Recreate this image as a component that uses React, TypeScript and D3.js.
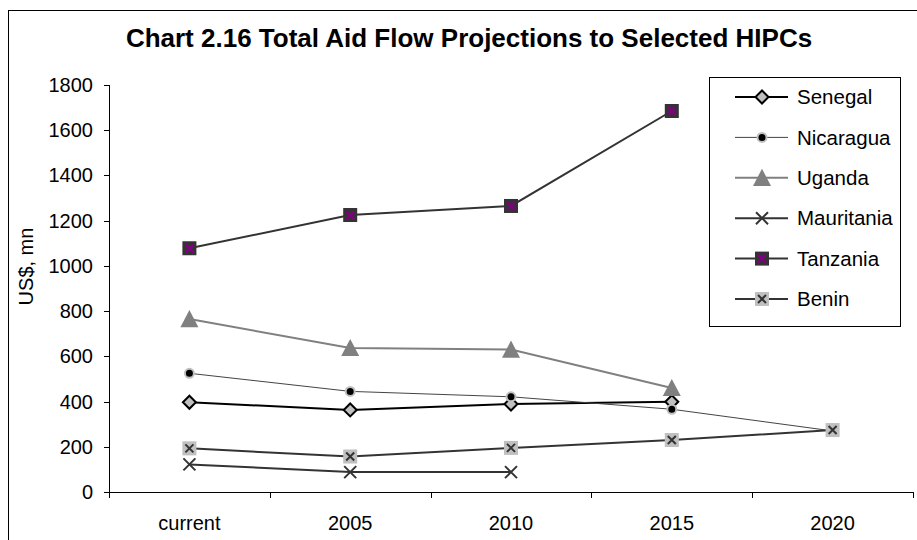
import React from 'react';
import * as d3 from 'd3';

const categories = ['current', '2005', '2010', '2015', '2020'];
const yTicks = [0, 200, 400, 600, 800, 1000, 1200, 1400, 1600, 1800];

// values, null = no point
const senegal = [397, 363, 389, 399, null];
const nicaragua = [525, 445, 421, 366, 270];
const uganda = [765, 637, 630, 460, null];
const mauritania = [122, 88, 88, null, null];
const tanzania = [1078, 1225, 1265, 1685, null];
const benin = [193, 157, 195, 230, 274];

const seriesNames = ['Senegal', 'Nicaragua', 'Uganda', 'Mauritania', 'Tanzania', 'Benin'];
const seriesValues = [senegal, nicaragua, uganda, mauritania, tanzania, benin];

const W = 917;
const H = 540;
const plot = { left: 109, right: 913, top: 85, bottom: 492 };
const font = 'Liberation Sans, Arial, sans-serif';

type Style = { stroke: string; width: number };
const lineStyles: Record<string, Style> = {
    Senegal: { stroke: '#000', width: 2 },
    Nicaragua: { stroke: '#444', width: 1 },
    Uganda: { stroke: '#808080', width: 2 },
    Mauritania: { stroke: '#333', width: 2 },
    Tanzania: { stroke: '#333', width: 2 },
    Benin: { stroke: '#333', width: 2 },
};

const Marker: React.FC<{ name: string; x: number; y: number }> = ({ name, x, y }) => {
    if (name === 'Senegal') {
        const s = 6.5;
        return <path d={`M${x},${y - s}L${x + s},${y}L${x},${y + s}L${x - s},${y}Z`} fill="#c0c0c0" stroke="#000" strokeWidth={2} />;
    }
    if (name === 'Nicaragua') {
        return <circle cx={x} cy={y} r={4.5} fill="#000" stroke="#c0c0c0" strokeWidth={2} />;
    }
    if (name === 'Uganda') {
        const s = 9;
        return <path d={`M${x},${y - s}L${x + s},${y + s * 0.9}L${x - s},${y + s * 0.9}Z`} fill="#808080" />;
    }
    if (name === 'Mauritania') {
        const s = 6;
        return <path d={`M${x - s},${y - s}L${x + s},${y + s}M${x + s},${y - s}L${x - s},${y + s}`} stroke="#333" strokeWidth={2} />;
    }
    if (name === 'Tanzania') {
        const s = 7, c = 4;
        return (
            <g>
                <rect x={x - s} y={y - s} width={2 * s} height={2 * s} fill="#333" />
                <path d={`M${x - c},${y - c}L${x + c},${y + c}M${x + c},${y - c}L${x - c},${y + c}`} stroke="#800080" strokeWidth={2.5} />
            </g>
        );
    }
    // Benin
    const s = 7, c = 4;
    return (
        <g>
            <rect x={x - s} y={y - s} width={2 * s} height={2 * s} fill="#c0c0c0" />
            <path d={`M${x - c},${y - c}L${x + c},${y + c}M${x + c},${y - c}L${x - c},${y + c}`} stroke="#333" strokeWidth={2} />
        </g>
    );
};

export default function App() {
    const x = d3.scaleBand<string>().domain(categories).range([plot.left, plot.right]);
    const y = d3.scaleLinear().domain([0, 1800]).range([plot.bottom, plot.top]);
    const cx = (c: string) => (x(c) as number) + x.bandwidth() / 2;

    const line = d3.line<number | null>()
        .defined(v => v != null)
        .x((_, i) => cx(categories[i]))
        .y(v => y(v as number));

    const boundaries = categories.map(c => x(c) as number).concat([plot.right]);

    const legend = { x: 709, y: 77, w: 191, h: 249, row0: 97, step: 40.4 };

    return (
        <svg width={W} height={H} style={{ position: 'absolute', left: 0, top: 0, background: '#fff' }} fontFamily={font}>
            {/* outer chart border */}
            <rect x={8.5} y={10.5} width={W + 20} height={H + 20} fill="none" stroke="#000" strokeWidth={1} />

            <text x={469} y={47} textAnchor="middle" fontSize={26} fontWeight="bold">
                Chart 2.16 Total Aid Flow Projections to Selected HIPCs
            </text>

            {/* y axis */}
            <line x1={plot.left + 0.5} x2={plot.left + 0.5} y1={plot.top} y2={plot.bottom} stroke="#000" />
            {yTicks.map(t => (
                <g key={t}>
                    <line x1={plot.left - 5} x2={plot.left} y1={Math.round(y(t)) + 0.5} y2={Math.round(y(t)) + 0.5} stroke="#000" />
                    <text x={93} y={y(t)} dy="0.35em" textAnchor="end" fontSize={20}>{t}</text>
                </g>
            ))}
            <text transform={`translate(33,${(plot.top + plot.bottom) / 2 - 22}) rotate(-90)`} textAnchor="middle" fontSize={20}>US$, mn</text>

            {/* x axis */}
            <line x1={plot.left} x2={plot.right} y1={plot.bottom + 0.5} y2={plot.bottom + 0.5} stroke="#000" />
            {boundaries.map((b, i) => (
                <line key={i} x1={Math.round(b) + 0.5} x2={Math.round(b) + 0.5} y1={plot.bottom} y2={plot.bottom + 6} stroke="#000" />
            ))}
            {categories.map(c => (
                <text key={c} x={cx(c)} y={530} textAnchor="middle" fontSize={20}>{c}</text>
            ))}

            {/* series lines */}
            {seriesNames.map((name, si) => (
                <path key={name} d={line(seriesValues[si]) || ''} fill="none"
                    stroke={lineStyles[name].stroke} strokeWidth={lineStyles[name].width} />
            ))}
            {seriesNames.map((name, si) => (
                <g key={name}>
                    {seriesValues[si].map((v, i) => v == null ? null : (
                        <Marker key={i} name={name} x={cx(categories[i])} y={y(v)} />
                    ))}
                </g>
            ))}

            {/* legend */}
            <rect x={legend.x + 0.5} y={legend.y + 0.5} width={legend.w} height={legend.h} fill="#fff" stroke="#000" />
            {seriesNames.map((name, i) => {
                const ry = legend.row0 + i * legend.step;
                return (
                    <g key={name}>
                        <line x1={735} x2={788} y1={ry} y2={ry} stroke={lineStyles[name].stroke} strokeWidth={lineStyles[name].width} />
                        <Marker name={name} x={762} y={ry} />
                        <text x={797} y={ry} dy="0.35em" fontSize={20.5}>{name}</text>
                    </g>
                );
            })}
        </svg>
    );
}
